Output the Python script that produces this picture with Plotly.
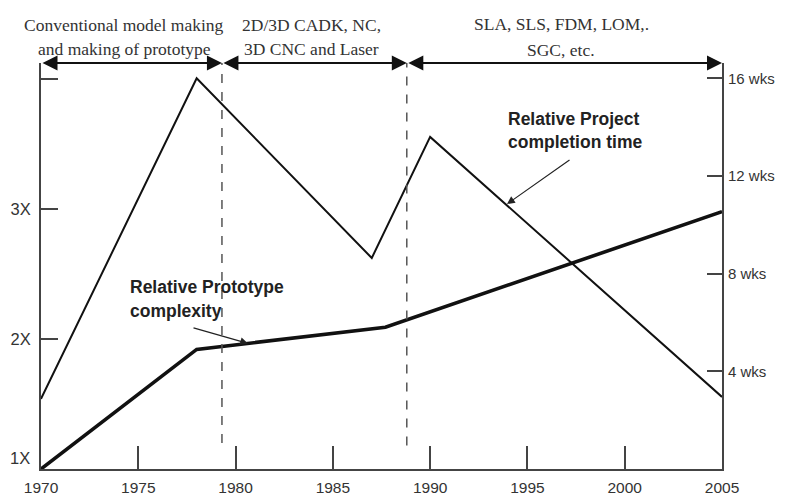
import plotly.graph_objects as go

# ---- data ----
complexity_years = [1970, 1978, 1987.7, 2005]
complexity_values = [1.0, 1.92, 2.09, 2.98]          # relative (1X..)

completion_years = [1970, 1978, 1987, 1990, 2005]
completion_weeks = [2.87, 16.0, 8.64, 13.6, 2.95]    # weeks

x_ticks = [1970, 1975, 1980, 1985, 1990, 1995, 2000, 2005]
left_tickvals = [1, 2, 3, 4]
left_ticktext = ["", "2X", "3X", ""]
right_tickvals = [4, 8, 12, 16]
right_ticktext = ["4 wks", "8 wks", "12 wks", "16 wks"]

era_bounds = [1970, 1979.3, 1988.8, 2005]
era_labels = [
    ["Conventional model making", "and making of prototype"],
    ["2D/3D CADK, NC,", "3D CNC and Laser"],
    ["SLA, SLS, FDM, LOM,.", "SGC, etc."],
]

# ---- layout geometry (page body adds an 8px offset) ----
OFF = 8
W, H = 785 - OFF, 497 - OFF
ML, MT = 41 - OFF, 63 - OFF
PW, PH = 681, 406
MR = W - ML - PW
MB = H - MT - PH
Y_LEFT_RANGE = [1, 1 + PH / 130.0]
Y_RIGHT_RANGE = [0, PH / 24.42]


def px(xp, yp):
    """screen pixel -> paper coords"""
    return (xp - OFF - ML) / PW, (MT + PH - (yp - OFF)) / PH


AX = "#444444"
TXT = "#333333"
SANS = "Liberation Sans, Arial, sans-serif"
SERIF = "Liberation Serif, Times New Roman, serif"
TICK_SIZE = 16.5

fig = go.Figure()
fig.add_trace(go.Scatter(x=completion_years, y=completion_weeks, yaxis="y2",
                         mode="lines", line=dict(color="#111111", width=2),
                         hoverinfo="skip"))
fig.add_trace(go.Scatter(x=complexity_years, y=complexity_values,
                         mode="lines", line=dict(color="#111111", width=3.6),
                         hoverinfo="skip"))

shapes = []
for b, ybot in zip(era_bounds[1:3], [1.2, 1.18]):
    shapes.append(dict(type="line", xref="x", yref="y", x0=b, x1=b,
                       y0=ybot, y1=Y_LEFT_RANGE[1],
                       line=dict(color="#555555", width=1.5, dash="dash")))

annotations = []
ytop = Y_LEFT_RANGE[1]
for i in range(3):
    a, b = era_bounds[i], era_bounds[i + 1]
    annotations.append(dict(x=b, y=ytop, ax=a, ay=ytop, xref="x", yref="y",
                            axref="x", ayref="y", text="", showarrow=True,
                            arrowhead=2, startarrowhead=2, arrowside="end+start",
                            arrowsize=1.5, startarrowsize=1.5, arrowwidth=2,
                            arrowcolor="#111111", standoff=0, startstandoff=0))
centers = [124, 311, 561]
rows_y = [[25, 49], [25, 49], [24, 50]]
for lbls, cx, ys in zip(era_labels, centers, rows_y):
    for t, yy in zip(lbls, ys):
        x0, y0 = px(cx, yy)
        annotations.append(dict(x=x0, y=y0, xref="paper", yref="paper",
                                text=t, showarrow=False, xanchor="center",
                                yanchor="middle",
                                font=dict(family=SERIF, size=17.5, color=TXT)))

x0, y0 = px(32, 458)
annotations.append(dict(x=x0, y=y0, xref="paper", yref="paper", text="1X",
                        showarrow=False, xanchor="right", yanchor="middle",
                        font=dict(family=SANS, size=TICK_SIZE, color=TXT)))

for t, (xx, yy) in [("Relative Prototype", (128, 287)), ("complexity", (128, 311)),
                    ("Relative Project", (506, 119)), ("completion time", (506, 142))]:
    x0, y0 = px(xx, yy)
    annotations.append(dict(x=x0, y=y0, xref="paper", yref="paper",
                            text="<b>%s</b>" % t, showarrow=False,
                            xanchor="left", yanchor="middle",
                            font=dict(family=SANS, size=17.5, color="#222222")))

annotations.append(dict(x=1980.64, y=1.966, xref="x", yref="y", ax=-56, ay=-16,
                        text="", showarrow=True, arrowhead=2, arrowsize=1.3,
                        arrowwidth=1.2, arrowcolor="#222222", standoff=0))
annotations.append(dict(x=1993.95, y=10.85, xref="x", yref="y2", ax=64, ay=-45,
                        text="", showarrow=True, arrowhead=2, arrowsize=1.3,
                        arrowwidth=1.2, arrowcolor="#222222", standoff=0))

fig.update_layout(
    width=W, height=H,
    margin=dict(l=ML, r=MR, t=MT, b=MB, pad=0, autoexpand=False),
    paper_bgcolor="white", plot_bgcolor="white",
    showlegend=False,
    shapes=shapes, annotations=annotations,
    xaxis=dict(range=[1970, 2005], tickvals=x_ticks, ticks="inside", ticklen=23,
               tickwidth=1.5, tickcolor=AX, showline=True, linecolor=AX,
               linewidth=2, showgrid=False, zeroline=False, automargin=False,
               ticklabelstandoff=3,
               tickfont=dict(family=SANS, size=15.5, color=TXT)),
    yaxis=dict(range=Y_LEFT_RANGE, tickvals=left_tickvals, ticktext=left_ticktext,
               ticks="inside", ticklen=17, tickwidth=1.5, tickcolor=AX,
               showline=True, linecolor=AX, linewidth=2, showgrid=False,
               zeroline=False, automargin=False, ticklabelstandoff=5,
               tickfont=dict(family=SANS, size=TICK_SIZE, color=TXT)),
    yaxis2=dict(range=Y_RIGHT_RANGE, overlaying="y", side="right",
                tickvals=right_tickvals, ticktext=right_ticktext,
                ticks="inside", ticklen=15, tickwidth=1.5, tickcolor=AX,
                showline=True, linecolor=AX, linewidth=2, showgrid=False,
                zeroline=False, automargin=False, ticklabelstandoff=1,
                tickfont=dict(family=SANS, size=15, color=TXT)),
)

fig.write_html("out.html")
